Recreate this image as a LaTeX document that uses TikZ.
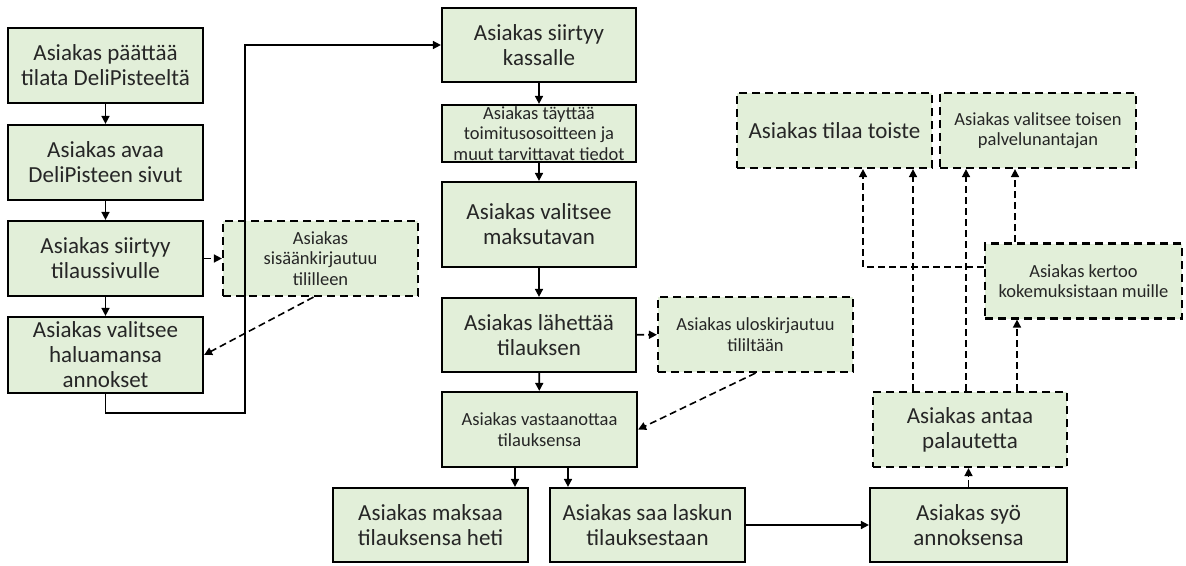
\documentclass[tikz,border=0pt]{standalone}
\usepackage{fontspec}
\setmainfont{Carlito}
\usepackage{xcolor}
\usetikzlibrary{arrows.meta}
\definecolor{boxgreen}{HTML}{E2EFD9}
\definecolor{inkgray}{HTML}{262626}

\tikzset{
    box/.style={draw=black, line width=2.2pt, fill=boxgreen, text=inkgray, align=center,
        inner sep=0pt, minimum width=195, minimum height=75, font=\fontsize{23}{25}\selectfont},
    dbox/.style={box, dash pattern=on 8pt off 5pt},
    small/.style={font=\fontsize{18.5}{20.5}\selectfont},
    flow/.style={->, line width=1.6pt},
    dflow/.style={flow, dash pattern=on 7pt off 4pt}
}

\begin{document}
\begin{tikzpicture}[x=1pt, y=-1pt, >={Triangle[length=8pt, width=8pt]}]
        \useasboundingbox (0,0) rectangle (1186,565);

%       left column
        \node [box] (b1) at (105.5, 65.5) {Asiakas päättää\\tilata DeliPisteeltä};
        \node [box] (b2) at (105.5, 162.5) {Asiakas avaa\\DeliPisteen sivut};
        \node [box] (b3) at (105.5, 258.5) {Asiakas siirtyy\\tilaussivulle};
        \node [box, minimum height=76] (b4) at (105.5, 355) {Asiakas valitsee\\haluamansa\\annokset};
        \node [dbox, small] (login) at (320.5, 258.5) {Asiakas\\sisäänkirjautuu\\tililleen};

%       middle column
        \node [box, minimum width=194, minimum height=74] (c1) at (539, 45) {Asiakas siirtyy\\kassalle};
        \node [box, small, minimum width=194, minimum height=57] (c2) at (539, 133.5) {Asiakas täyttää\\toimitusosoitteen ja\\muut tarvittavat tiedot};
        \node [box, minimum width=194, minimum height=85] (c3) at (539, 224.5) {Asiakas valitsee\\maksutavan};
        \node [box, minimum width=194, minimum height=74] (c4) at (539, 335) {Asiakas lähettää\\tilauksen};
        \node [dbox, small] (logout) at (755.5, 334.5) {Asiakas uloskirjautuu\\tililtään};
        \node [box, small] (c5) at (539.5, 429.5) {Asiakas vastaanottaa\\tilauksensa};

%       bottom row
        \node [box, minimum height=74] (pay) at (430.5, 525) {Asiakas maksaa\\tilauksensa heti};
        \node [box, minimum height=74] (bill) at (647.5, 525) {Asiakas saa laskun\\tilauksestaan};
        \node [box, minimum width=197, minimum height=74] (eat) at (968.5, 525) {Asiakas syö\\annoksensa};

%       after eating
        \node [dbox, minimum width=194] (feedback) at (970, 429.5) {Asiakas antaa\\palautetta};
        \node [dbox] (again) at (834.5, 130.5) {Asiakas tilaa toiste};
        \node [dbox, small, minimum width=196] (other) at (1038, 130.5) {Asiakas valitsee toisen\\palvelunantajan};
        \node [dbox, small, minimum width=197] (tell) at (1083.5, 281) {Asiakas kertoo\\kokemuksistaan muille};

        \foreach \from/\to in {b1/b2, b2/b3, b3/b4, c1/c2, c2/c3, c3/c4, c4/c5, bill/eat}
        {
            \draw [flow] (\from) -- (\to);
        }

        \draw [dflow] (b3) -- (login);
        \draw [dflow] ([xshift=-7]login.south) -- (b4.east);

        \coordinate (turn) at (245, 413);
        \draw [flow] (b4.south) |- (turn) |- (c1.west);

        \draw [dflow] (c4) -- (logout);
        \draw [dflow] (logout.south) -- (c5.east);

        \draw [flow] ([xshift=-24.5]c5.south) -- ([xshift=-24.5]c5.south |- pay.north);
        \draw [flow] ([xshift=28.5]c5.south) -- ([xshift=28.5]c5.south |- bill.north);

        \draw [dflow] (eat.north) -- (eat.north |- feedback.south);
        \draw [dflow] ([xshift=-57]feedback.north) -- ([xshift=-57]feedback.north |- again.south);
        \draw [dflow] ([xshift=-4]feedback.north) -- ([xshift=-4]feedback.north |- other.south);
        \draw [dflow] ([xshift=47]feedback.north) -- ([xshift=47]feedback.north |- tell.south);
        \draw [dflow] ([yshift=14]tell.west) -| ([xshift=28.5]again.south);
        \draw [dflow] ([xshift=-68.5]tell.north) -- ([xshift=-68.5]tell.north |- other.south);
\end{tikzpicture}
\end{document}
